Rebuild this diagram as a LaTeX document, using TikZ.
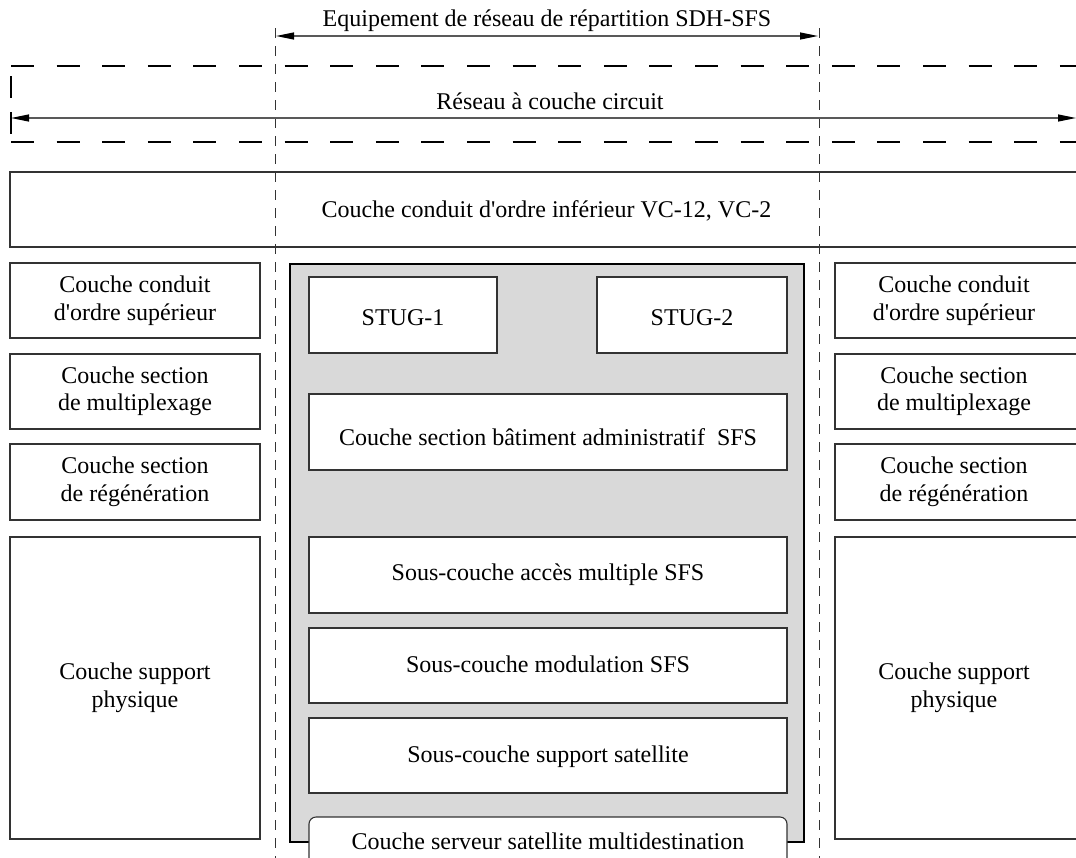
\documentclass[tikz,border=0pt]{standalone}
\usepackage{fontspec}
\setmainfont{Liberation Serif}[Ligatures=TeXOff]
\usetikzlibrary{arrows.meta}
\definecolor{edge}{HTML}{333333}
\definecolor{shade}{HTML}{D9D9D9}
\begin{document}
\begin{tikzpicture}[x=1pt,y=-1pt,
  every node/.style={font=\fontsize{24}{27.5}\selectfont, inner sep=0pt, outer sep=0pt},
  lbl/.style={align=center},
  lblb/.style={anchor=base},
  box/.style={draw=edge, line width=1.1pt, fill=white},
  outline/.style={draw=edge, line width=1.1pt},
  graybox/.style={draw=black, line width=2pt, fill=shade},
  guide/.style={draw=black!80, line width=0.9pt, dash pattern=on 10pt off 8pt},
  thickdash/.style={draw=black, line width=2.3pt, dash pattern=on 23pt off 22.6pt},
  span/.style={draw=black!65, line width=1.2pt, {Triangle[length=18pt,width=7pt,color=black]}-{Triangle[length=18pt,width=7pt,color=black]}}
]
\useasboundingbox (0,0) rectangle (1076,857);
\begin{scope}
\clip (0,0) rectangle (1076,857);

% vertical guides
\coordinate (gL1) at (275,28); \coordinate (gL2) at (275,862);
\coordinate (gR1) at (819,28); \coordinate (gR2) at (819,862);
\draw[guide] (gL1) -- (gL2);
\draw[guide] (gR1) -- (gR2);

% equipment span
\node[lblb] (title) at (547,26) {Equipement de réseau de répartition SDH-SFS};
\coordinate (eqL) at (276,36); \coordinate (eqR) at (818,36);
\draw[span] (eqL) -- (eqR);

% dashed circuit layer frame
\coordinate (dt1) at (11,66); \coordinate (dt2) at (1095,66);
\coordinate (db1) at (11,142); \coordinate (db2) at (1095,142);
\coordinate (dl1) at (11,76); \coordinate (dl2) at (11,134);
\draw[thickdash] (dt1) -- (dt2);
\draw[thickdash] (db1) -- (db2);
\draw[line width=2.3pt, dash pattern=on 22pt off 14pt] (dl1) -- (dl2);
\coordinate (cL) at (11,118); \coordinate (cR) at (1076,118);
\draw[span] (cL) -- (cR);
\node[lblb] (circ) at (550,109) {Réseau à couche circuit};

% lower order path layer
\draw[outline] (1095,172) -| (10,247) -- (1095,247);
\node[lblb] (lower) at (546.5,217) {Couche conduit d'ordre inférieur VC-12, VC-2};

% left column
\node[box, lbl, minimum width=250pt, minimum height=75pt] (L1) at (135,300.5) {Couche conduit\\d'ordre supérieur};
\node[box, lbl, minimum width=250pt, minimum height=75pt] (L2) at (135,391.5) {Couche section\\de multiplexage};
\node[box, lbl, minimum width=250pt, minimum height=76pt] (L3) at (135,482) {Couche section\\de régénération};
\node[box, lbl, minimum width=250pt, minimum height=302pt] (L4) at (135,688) {Couche support\\physique};

% right column (open on the right)
\draw[outline] (1095,263) -| (835,338) -- (1095,338);
\draw[outline] (1095,354) -| (835,429) -- (1095,429);
\draw[outline] (1095,444) -| (835,520) -- (1095,520);
\draw[outline] (1095,537) -| (835,839) -- (1095,839);
\node[lbl] (R1) at (954,300.5) {Couche conduit\\d'ordre supérieur};
\node[lbl] (R2) at (954,391.5) {Couche section\\de multiplexage};
\node[lbl] (R3) at (954,482) {Couche section\\de régénération};
\node[lbl] (R4) at (954,688) {Couche support\\physique};

% SDH-SFS core
\node[graybox, minimum width=514pt, minimum height=578pt] (core) at (547,553) {};
\node[box, minimum width=188pt, minimum height=76pt] (stug1) at (403,315) {};
\node[lblb] (stug1t) at (403,325) {STUG-1};
\node[box, minimum width=190pt, minimum height=76pt] (stug2) at (692,315) {};
\node[lblb] (stug2t) at (692,325) {STUG-2};
\node[box, minimum width=478pt, minimum height=76pt] (admin) at (548,432) {};
\node[lblb] (admint) at (548,445.5) {Couche section bâtiment administratif~ SFS};
\node[box, minimum width=478pt, minimum height=76pt] (acces) at (548,575) {};
\node[lblb] (accest) at (548,580) {Sous-couche accès multiple SFS};
\node[box, minimum width=478pt, minimum height=75pt] (modu) at (548,665.5) {};
\node[lblb] (modut) at (548,672) {Sous-couche modulation SFS};
\node[box, minimum width=478pt, minimum height=75pt] (supp) at (548,755.5) {};
\node[lblb] (suppt) at (548,762) {Sous-couche support satellite};
\node[box, rounded corners=7pt, minimum width=478pt, minimum height=64pt] (mcast) at (548,849) {};
\node[lblb] (mcastt) at (548,849) {Couche serveur satellite multidestination};
\end{scope}
\end{tikzpicture}
\end{document}
